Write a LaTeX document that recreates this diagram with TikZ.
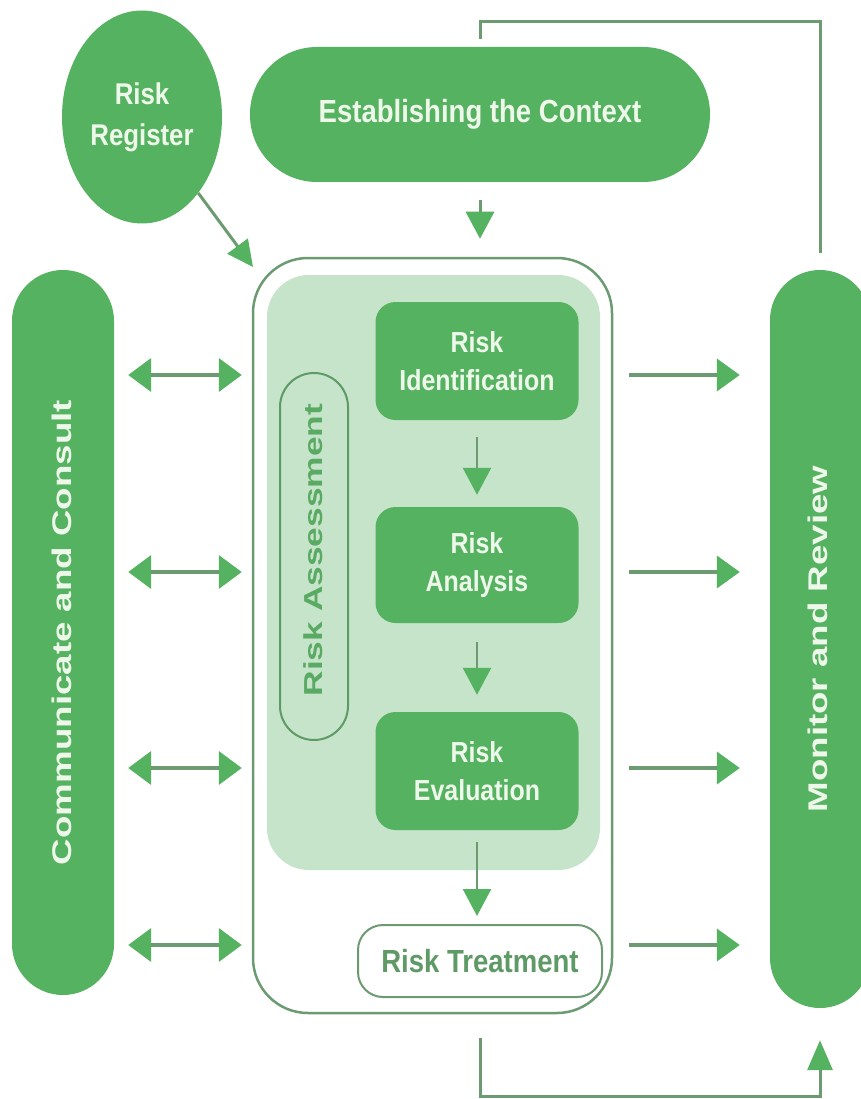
\documentclass[tikz,border=0pt]{standalone}
\usepackage{fontspec}
\setmainfont{Liberation Sans}
\newfontfamily\condfont{Liberation Sans}[FakeStretch=0.86]
\newfontfamily\widefont{Liberation Sans}[FakeStretch=1.36]
\usetikzlibrary{arrows.meta,shapes.geometric}

\definecolor{rgreen}{HTML}{55B260}
\definecolor{rlight}{HTML}{C6E4CA}
\definecolor{rline}{HTML}{6C9B72}
\definecolor{rtext}{HTML}{EEF8EA}
\definecolor{rdark}{HTML}{5E9A66}
\definecolor{rassess}{HTML}{5AAA63}

\tikzset{
  greenbox/.style={fill=rgreen, draw=none, text=rtext, align=center, inner sep=0pt,
    font=\condfont\bfseries\fontsize{29}{38}\selectfont},
  pillbar/.style={fill=rgreen, draw=none, inner sep=0pt},
  sidelabel/.style={rotate=90, text=rtext, inner sep=0pt,
    font=\widefont\bfseries\fontsize{27}{30}\selectfont},
  conn/.style={draw=rline, line width=3pt},
  dbl/.style={draw=rline, line width=4pt,
    arrows={Triangle[length=23pt,width=33pt,color=rgreen]-Triangle[length=23pt,width=33pt,color=rgreen]}},
  rgt/.style={draw=rline, line width=4pt,
    arrows={-Triangle[length=23pt,width=32pt,color=rgreen]}},
  dn/.style={draw=rline, line width=2.5pt,
    arrows={-Triangle[length=27pt,width=28pt,color=rgreen]}}
}

\begin{document}
\begin{tikzpicture}[x=1pt,y=-1pt]
\clip (0,0) rectangle (861,1099);
\fill[white] (0,0) rectangle (861,1099);

% row levels for the side arrows
\coordinate (r1) at (0,375);
\coordinate (r2) at (0,572);
\coordinate (r3) at (0,768);
\coordinate (r4) at (0,945);
\coordinate (topc) at (0,22);
\coordinate (botc) at (0,1096);
\coordinate (regtip) at (253,267);

% outer process frame and assessment zone
\node[draw=rline, line width=2.5pt, rounded corners=55pt, minimum width=359pt,
      minimum height=755pt, inner sep=0pt] (frame) at (432.5,635.5) {};
\node[fill=rlight, rounded corners=42pt, minimum width=333pt, minimum height=595pt,
      inner sep=0pt] (zone) at (433.5,572.5) {};

% top items
\node[ellipse, fill=rgreen, minimum width=160pt, minimum height=213pt, inner sep=0pt,
      text=rtext, align=center, font=\condfont\bfseries\fontsize{30}{41}\selectfont]
      (reg) at (142,117) {Risk\\Register};
\node[greenbox, rounded corners=67pt, minimum width=460pt, minimum height=135pt,
      font=\condfont\bfseries\fontsize{32}{34}\selectfont]
      (ctx) at (480,114.5) {Establishing the Context};

% side bars
\node[pillbar, rounded corners=51pt, minimum width=102pt, minimum height=725pt] (comm) at (63,632.5) {};
\node[sidelabel] (commlbl) at (62,632.5) {Communicate and Consult};
\node[pillbar, rounded corners=50pt, minimum width=100pt, minimum height=738pt] (mon) at (820,639) {};
\node[sidelabel] (monlbl) at (818,639) {Monitor and Review};

% risk assessment bracket
\node[draw=rdark, line width=2pt, rounded corners=34pt, minimum width=68pt,
      minimum height=367pt, inner sep=0pt] (assess) at (314,556.5) {};
\node[rotate=90, text=rassess, inner sep=0pt,
      font=\widefont\bfseries\fontsize{26}{28}\selectfont] (assesslbl) at (313,550) {Risk Assessment};

% process steps
\node[greenbox, rounded corners=20pt, minimum width=203pt, minimum height=118pt]
      (ident) at (477,361) {Risk\\Identification};
\node[greenbox, rounded corners=20pt, minimum width=203pt, minimum height=116pt]
      (anal) at (477,565) {Risk\\Analysis};
\node[greenbox, rounded corners=20pt, minimum width=203pt, minimum height=118pt]
      (eval) at (477,771) {Risk\\Evaluation};
\node[draw=rline, line width=2pt, fill=white, rounded corners=25pt, minimum width=244pt,
      minimum height=72pt, inner sep=0pt, text=rdark,
      font=\condfont\bfseries\fontsize{32}{34}\selectfont]
      (treat) at (480,961) {Risk Treatment};

% flow arrows
\draw[conn, arrows={-Triangle[length=26pt,width=25pt,color=rgreen]}] (reg) -- (regtip);
\draw[dn, line width=3pt, shorten <=18pt, shorten >=18pt] (ctx.south) -- (ctx.south |- frame.north);
\draw[dn, shorten <=17pt, shorten >=12pt] (ident.south) -- (anal.north);
\draw[dn, shorten <=19pt, shorten >=17pt] (anal.south) -- (eval.north);
\draw[dn, shorten <=12pt, shorten >=8pt] (eval.south) -- (eval.south |- treat.north);

% communicate and consult links
\foreach \r in {r1,r2,r3,r4}{
  \draw[dbl, shorten <=14pt, shorten >=10pt] (comm.east |- \r) -- (frame.west |- \r);
  \draw[rgt, shorten <=16pt, shorten >=30pt] (frame.east |- \r) -- (mon.west |- \r);
}

% feedback loops
\draw[conn, shorten <=17pt, shorten >=8pt]
  (mon.north) -- (mon.north |- topc) -- (ctx.north |- topc) -- (ctx.north);
\draw[conn, arrows={-Triangle[length=30pt,width=25pt,color=rgreen]}, shorten <=40pt, shorten >=32pt]
  (treat.south) -- (treat.south |- botc) -- (mon.south |- botc) -- (mon.south);
\end{tikzpicture}
\end{document}
